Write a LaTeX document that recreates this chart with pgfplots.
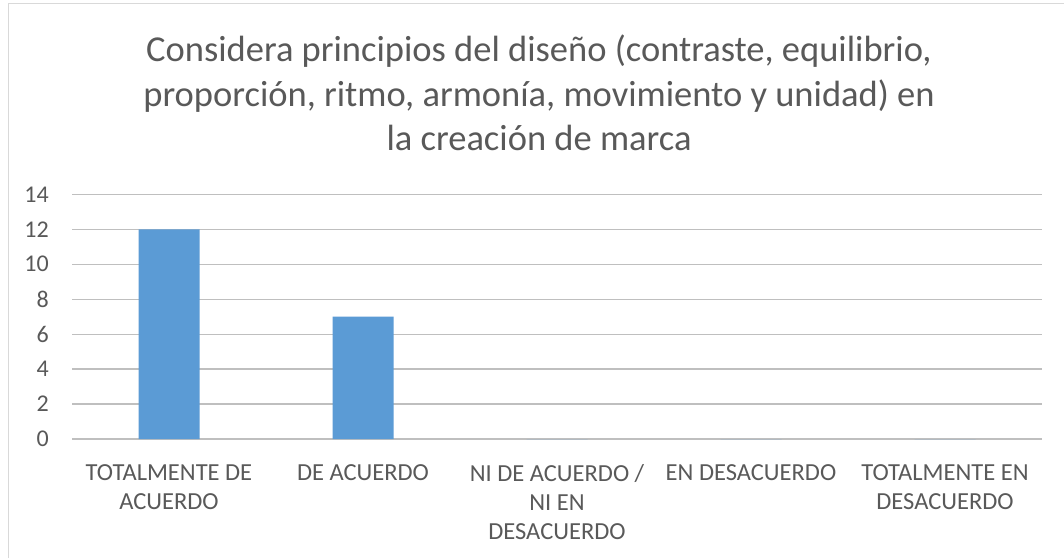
\documentclass[border=0pt]{standalone}
\usepackage{fontspec}
\setmainfont{Carlito}
\usepackage{pgfplots}
\pgfplotsset{compat=1.18}
\definecolor{bar}{HTML}{5B9BD5}
\definecolor{txt}{HTML}{595959}
\definecolor{grid}{HTML}{D9D9D9}
\begin{document}
\begin{tikzpicture}[x=1pt,y=1pt]
\useasboundingbox (0,0) rectangle (1064,558);
\fill[white] (0,0) rectangle (1064,558);
\draw[grid, line width=1pt] (8,0) -- (8,554) -- (1064,554);
\begin{axis}[
  at={(72pt,119pt)}, anchor=south west,
  scale only axis, width=970pt, height=244.6pt,
  xmin=-0.5, xmax=4.5, ymin=0, ymax=14,
  ytick={0,2,...,14},
  xtick={0,1,2,3,4},
  xticklabels={{TOTALMENTE DE\\ACUERDO},{DE ACUERDO},{NI DE ACUERDO /\\NI EN\\DESACUERDO},{EN DESACUERDO},{TOTALMENTE EN\\DESACUERDO}},
  axis line style={draw=none},
  major tick length=0pt,
  tick style={draw=none},
  xmajorgrids=false,
  ymajorgrids=true,
  major grid style={grid, line width=1.3pt},
  /pgf/number format/assume math mode=true,
  yticklabel style={font=\fontsize{24}{29}\selectfont, text=txt, anchor=east, inner sep=0pt, xshift=-23pt},
  xticklabel style={font=\fontsize{24.5}{29}\selectfont, text=txt, anchor=north, inner sep=0pt, yshift=-25pt, align=center},
  ybar, bar width=61pt,
  clip=false,
]
\addplot[fill=bar, draw=none] coordinates {(0,12) (1,7) (2,0) (3,0) (4,0)};
\end{axis}
\begin{scope}[every node/.style={font=\fontsize{36.5}{44}\selectfont, text=txt, anchor=base, inner sep=0pt}]
\node at (539,496) {Considera principios del diseño (contraste, equilibrio,};
\node at (539,451.5) {proporción, ritmo, armonía, movimiento y unidad) en};
\node at (539,407) {la creación de marca};
\end{scope}
\end{tikzpicture}
\end{document}
